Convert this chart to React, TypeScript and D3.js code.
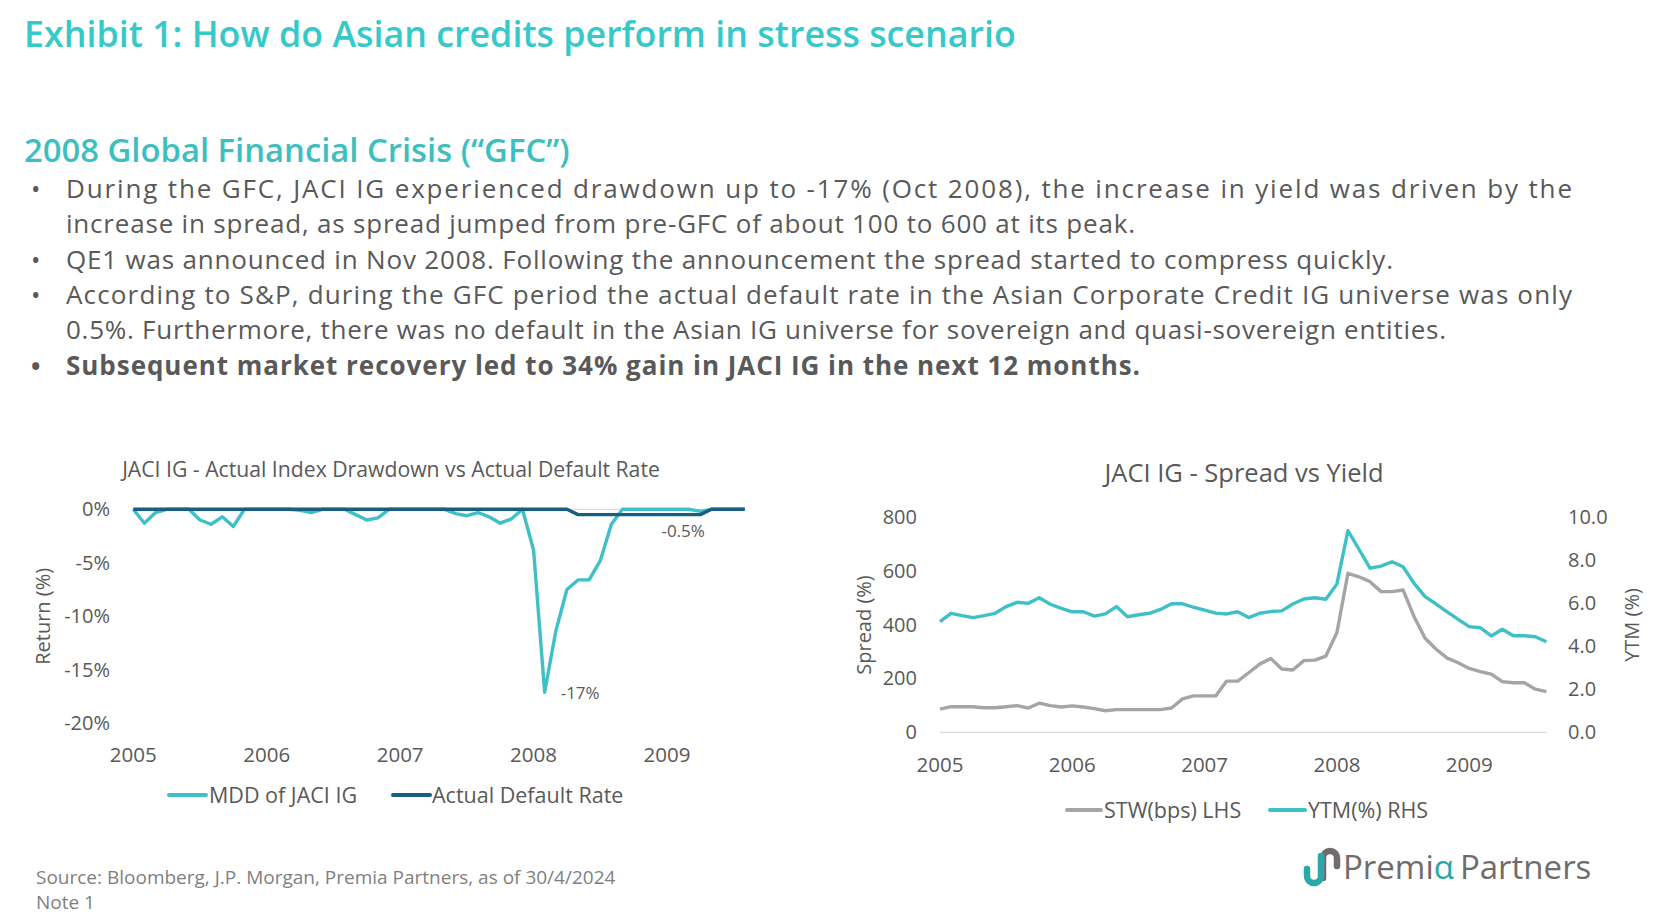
import React from "react";
import * as d3 from "d3";

// ---------- data ----------
const yearLabels = ["2005", "2006", "2007", "2008", "2009"];
const yearStartIndex = [0, 12, 24, 36, 48];

// Left chart: monthly max drawdown of JACI IG (%) and actual default rate (%)
const mddJaciIG = [
  0, -1.3, -0.3, 0, 0, 0, -1.0, -1.4, -0.7, -1.6,
  0, 0, 0, 0, 0, -0.1, -0.3, 0, 0, 0,
  -0.5, -1.0, -0.8, 0, 0, 0, 0, 0, 0, -0.4,
  -0.6, -0.3, -0.7, -1.3, -0.9, 0, -3.8, -17.1, -11.4, -7.5,
  -6.6, -6.6, -4.8, -1.4, 0, 0, 0, 0, 0, 0,
  0, -0.2, 0, 0, 0, 0,
];
const actualDefaultRate = [
  0, 0, 0, 0, 0, 0, 0, 0, 0, 0,
  0, 0, 0, 0, 0, 0, 0, 0, 0, 0,
  0, 0, 0, 0, 0, 0, 0, 0, 0, 0,
  0, 0, 0, 0, 0, 0, 0, 0, 0, 0,
  -0.5, -0.5, -0.5, -0.5, -0.5, -0.5, -0.5, -0.5, -0.5, -0.5,
  -0.5, -0.5, 0, 0, 0, 0,
];
const leftTicks = [0, -5, -10, -15, -20];

// Right chart: spread to worst (bps, LHS) and yield to maturity (%, RHS)
const stwBps = [
  86, 95, 95, 95, 91, 91, 95, 99, 90, 108,
  99, 94, 98, 94, 88, 80, 84, 84, 84, 84,
  84, 90, 124, 135, 135, 135, 190, 190, 221, 253,
  274, 235, 231, 266, 268, 283, 370, 590, 577, 559,
  522, 522, 528, 429, 349, 308, 275, 258, 237, 225,
  216, 188, 184, 184, 160, 151,
];
const ytmPct = [
  5.13, 5.52, 5.41, 5.32, 5.41, 5.52, 5.83, 6.03, 5.98, 6.24,
  5.94, 5.75, 5.59, 5.59, 5.39, 5.49, 5.83, 5.36, 5.45, 5.52,
  5.7, 5.96, 5.96, 5.8, 5.67, 5.53, 5.49, 5.59, 5.32, 5.52,
  5.6, 5.63, 5.95, 6.18, 6.24, 6.17, 6.88, 9.35, 8.49, 7.61,
  7.71, 7.91, 7.68, 6.91, 6.29, 5.95, 5.59, 5.24, 4.9, 4.85,
  4.47, 4.78, 4.48, 4.48, 4.43, 4.2,
];
const spreadTicks = [0, 200, 400, 600, 800];
const ytmTicks = [0, 2, 4, 6, 8, 10];

const bulletLines = [
  { text: "During the GFC, JACI IG experienced drawdown up to -17% (Oct 2008), the increase in yield was driven by the", bullet: true, bold: false },
  { text: "increase in spread, as spread jumped from pre-GFC of about 100 to 600 at its peak.", bullet: false, bold: false },
  { text: "QE1 was announced in Nov 2008. Following the announcement the spread started to compress quickly.", bullet: true, bold: false },
  { text: "According to S&P, during the GFC period the actual default rate in the Asian Corporate Credit IG universe was only", bullet: true, bold: false },
  { text: "0.5%. Furthermore, there was no default in the Asian IG universe for sovereign and quasi-sovereign entities.", bullet: false, bold: false },
  { text: "Subsequent market recovery led to 34% gain in JACI IG in the next 12 months.", bullet: true, bold: true },
];
const bulletWidths = [1506, 1069, 1327, 1506, 1380, 1074];

const FONT = "'Open Sans', 'Noto Sans', sans-serif";
const TEXT = "#595959";
const TEAL = "#3FC0C7";
const NAVY = "#175E80";
const GRAY = "#A5A5A5";

export default function App() {
  // ---- left chart scales ----
  const lx = d3.scaleLinear().domain([0, 55]).range([133.3, 744.8]);
  const ly = d3.scaleLinear().domain([-20, 0]).range([723.3, 509.3]);
  const lineLeft = d3
    .line<number>()
    .x((_, i) => lx(i))
    .y((d) => ly(d));

  // ---- right chart scales ----
  const rx = d3.scaleLinear().domain([0, 55]).range([940, 1546.4]);
  const ryL = d3.scaleLinear().domain([0, 800]).range([732.3, 516.7]);
  const ryR = d3.scaleLinear().domain([0, 10]).range([732.3, 516.7]);
  const lineStw = d3
    .line<number>()
    .x((_, i) => rx(i))
    .y((d) => ryL(d));
  const lineYtm = d3
    .line<number>()
    .x((_, i) => rx(i))
    .y((d) => ryR(d));

  const minIdx = mddJaciIG.indexOf(d3.min(mddJaciIG) as number);

  return (
    <svg
      width={1660}
      height={920}
      style={{ position: "absolute", left: 0, top: 0, background: "#fff" }}
      fontFamily={FONT}
    >
      <rect x={0} y={0} width={1660} height={920} fill="#fff" />
      {/* Titles */}
      <text x={24} y={47} fontSize={35.8} fontWeight={600} fill="#36C9CA">
        Exhibit 1: How do Asian credits perform in stress scenario
      </text>
      <text x={24} y={162} fontSize={32.8} fontWeight={600} fill="#3DBFBF">
        2008 Global Financial Crisis (“GFC”)
      </text>

      {/* Bullets */}
      {bulletLines.map((l, i) => {
        const y = 198 + i * 35.3;
        return (
          <g key={i}>
            {l.bullet && (
              <text x={31} y={y} fontSize={25} fill={TEXT} fontWeight={l.bold ? 700 : 400}>
                •
              </text>
            )}
            <text
              x={66}
              y={y}
              fontSize={26}
              fill={TEXT}
              fontWeight={l.bold ? 700 : 400}
              textLength={bulletWidths[i]}
              lengthAdjust="spacing"
            >
              {l.text}
            </text>
          </g>
        );
      })}

      {/* ---------- Left chart ---------- */}
      <text x={391} y={477} fontSize={21.2} fill={TEXT} textAnchor="middle">
        JACI IG - Actual Index Drawdown vs Actual Default Rate
      </text>
      {leftTicks.map((t) => (
        <text key={t} x={110} y={ly(t)} dy="0.35em" fontSize={20} fill={TEXT} textAnchor="end">
          {`${t}%`}
        </text>
      ))}
      <text
        transform={`translate(43,${(ly(-5) + ly(-15)) / 2}) rotate(-90)`}
        fontSize={20}
        fill={TEXT}
        textAnchor="middle"
        dy="0.35em"
      >
        Return (%)
      </text>
      {yearLabels.map((y, i) => (
        <text key={y} x={lx(yearStartIndex[i])} y={755} dy="0.35em" fontSize={20.5} fill={TEXT} textAnchor="middle">
          {y}
        </text>
      ))}
      <line x1={lx(0)} x2={lx(55)} y1={ly(0)} y2={ly(0)} stroke="#D9D9D9" strokeWidth={1.2} />
      <path d={lineLeft(mddJaciIG) || ""} fill="none" stroke={TEAL} strokeWidth={3.4} strokeLinejoin="round" />
      <path d={lineLeft(actualDefaultRate) || ""} fill="none" stroke={NAVY} strokeWidth={3.4} strokeLinejoin="round" />
      <text x={lx(minIdx) + 16} y={ly(mddJaciIG[minIdx]) + 1} dy="0.35em" fontSize={17} fill={TEXT}>
        -17%
      </text>
      <text x={lx(47.5)} y={531} dy="0.35em" fontSize={17} fill={TEXT}>
        -0.5%
      </text>
      {/* legend left */}
      <line x1={169} x2={206} y1={795} y2={795} stroke={TEAL} strokeWidth={4} strokeLinecap="round" />
      <text x={209} y={795} dy="0.35em" fontSize={21.5} fill={TEXT}>
        MDD of JACI IG
      </text>
      <line x1={393} x2={430} y1={795} y2={795} stroke={NAVY} strokeWidth={4} strokeLinecap="round" />
      <text x={432} y={795} dy="0.35em" fontSize={21.5} fill={TEXT}>
        Actual Default Rate
      </text>

      {/* ---------- Right chart ---------- */}
      <text x={1244} y={482} fontSize={25.5} fill={TEXT} textAnchor="middle">
        JACI IG - Spread vs Yield
      </text>
      {spreadTicks.map((t) => (
        <text key={t} x={917} y={ryL(t)} dy="0.35em" fontSize={20} fill={TEXT} textAnchor="end">
          {t}
        </text>
      ))}
      {ytmTicks.map((t) => (
        <text key={t} x={1568} y={ryR(t)} dy="0.35em" fontSize={20} fill={TEXT} textAnchor="start">
          {t.toFixed(1)}
        </text>
      ))}
      <text transform={`translate(864,625) rotate(-90)`} fontSize={20} fill={TEXT} textAnchor="middle" dy="0.35em">
        Spread (%)
      </text>
      <text transform={`translate(1632,625) rotate(-90)`} fontSize={20} fill={TEXT} textAnchor="middle" dy="0.35em">
        YTM (%)
      </text>
      {yearLabels.map((y, i) => (
        <text key={y} x={rx(yearStartIndex[i])} y={765} dy="0.35em" fontSize={20.5} fill={TEXT} textAnchor="middle">
          {y}
        </text>
      ))}
      <line x1={rx(0)} x2={rx(55)} y1={ryL(0)} y2={ryL(0)} stroke="#D9D9D9" strokeWidth={1.2} />
      <path d={lineStw(stwBps) || ""} fill="none" stroke={GRAY} strokeWidth={3.4} strokeLinejoin="round" />
      <path d={lineYtm(ytmPct) || ""} fill="none" stroke={TEAL} strokeWidth={3.4} strokeLinejoin="round" />
      {/* legend right */}
      <line x1={1067} x2={1101} y1={810} y2={810} stroke={GRAY} strokeWidth={4} strokeLinecap="round" />
      <text x={1104} y={810} dy="0.35em" fontSize={21.5} fill={TEXT}>
        STW(bps) LHS
      </text>
      <line x1={1270} x2={1305} y1={810} y2={810} stroke={TEAL} strokeWidth={4} strokeLinecap="round" />
      <text x={1308} y={810} dy="0.35em" fontSize={21.5} fill={TEXT}>
        YTM(%) RHS
      </text>

      {/* Footer */}
      <text x={36} y={884} fontSize={19} fill="#7F7F7F">
        Source: Bloomberg, J.P. Morgan, Premia Partners, as of 30/4/2024
      </text>
      <text x={36} y={909} fontSize={19} fill="#7F7F7F">
        Note 1
      </text>

      {/* Logo */}
      <g fill="none" strokeWidth={6.5} strokeLinecap="round">
        <path d="M1323 878 V858 A7 7 0 0 1 1337 858 V866" stroke="#716B6C" />
        <path d="M1321 856 V876 A7 7 0 0 1 1307 876 V869" stroke="#2BA8A8" />
      </g>
      <text x={1343} y={879} fontSize={33} fill="#716B6C">
        Premi
        <tspan fill="#2BA8A8">α</tspan>
        <tspan dx={6}>Partners</tspan>
      </text>
    </svg>
  );
}
